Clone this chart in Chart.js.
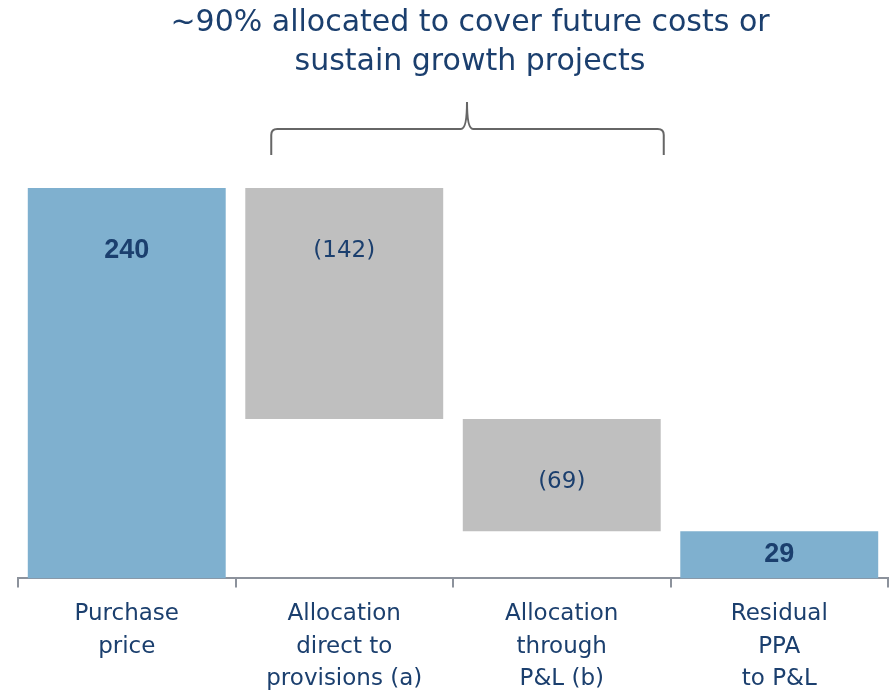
<!DOCTYPE html>
<html>
<head>
<meta charset="utf-8">
<script src="https://cdn.jsdelivr.net/npm/chart.js@4"></script>
<style>
  html, body { margin: 0; padding: 0; background: #ffffff; overflow: hidden; }
  #wrap { position: relative; width: 890px; height: 692px; overflow: hidden; }
</style>
</head>
<body>
<div id="wrap"><canvas id="c" width="890" height="706"></canvas></div>
<script>
const categories = [
  ["Purchase", "price"],
  ["Allocation", "direct to", "provisions (a)"],
  ["Allocation", "through", "P&L (b)"],
  ["Residual", "PPA", "to P&L"]
];
const barStarts = [0, 98, 29, 0];
const barEnds = [240, 240, 98, 29];
const valueLabels = ["240", "(142)", "(69)", "29"];
const labelBold = [true, false, false, true];
const titleLines = ["~90% allocated to cover future costs or", "sustain growth projects"];

const NAVY = "#1b3f6e";
const BLUE = "#7fb0cf";
const GREY = "#bfbfbf";
const AXIS = "#8c929c";
const FONT = "'DejaVu Sans', 'Open Sans', sans-serif";

const floating = barStarts.map((s, i) => [s, barEnds[i]]);

const overlay = {
  id: "overlay",
  afterDatasetsDraw(chart) {
    const ctx = chart.ctx;
    const meta = chart.getDatasetMeta(0);
    ctx.save();
    ctx.textAlign = "center";
    ctx.textBaseline = "middle";
    ctx.fillStyle = NAVY;
    meta.data.forEach((bar, i) => {
      const top = Math.min(bar.y, bar.base);
      const bottom = Math.max(bar.y, bar.base);
      const h = bottom - top;
      const y = h > 100 ? top + 63 : (top + bottom) / 2;
      ctx.font = (labelBold[i] ? "bold 27px 'Liberation Sans', Arial, sans-serif" : "23px " + FONT);
      ctx.fillText(valueLabels[i], bar.x, y);
    });
    // title
    const cx = 470;
    ctx.font = "30px " + FONT;
    ctx.fillText(titleLines[0], cx, 23);
    ctx.fillText(titleLines[1], cx, 62);
    // brace
    const x = chart.scales.x;
    const left = x.getPixelForValue(1) - 73;
    const right = x.getPixelForValue(2) + 102;
    const mid = 467;
    const yTop = 102, yH = 129, yEnd = 155, r = 6;
    ctx.strokeStyle = "#666666";
    ctx.lineWidth = 2;
    ctx.beginPath();
    ctx.moveTo(left, yEnd);
    ctx.lineTo(left, yH + r);
    ctx.quadraticCurveTo(left, yH, left + r, yH);
    ctx.lineTo(mid - r, yH);
    ctx.quadraticCurveTo(mid, yH, mid, yTop);
    ctx.quadraticCurveTo(mid, yH, mid + r, yH);
    ctx.lineTo(right - r, yH);
    ctx.quadraticCurveTo(right, yH, right, yH + r);
    ctx.lineTo(right, yEnd);
    ctx.stroke();
    ctx.restore();
  }
};

new Chart(document.getElementById("c"), {
  type: "bar",
  data: {
    labels: categories,
    datasets: [{
      data: floating,
      backgroundColor: [BLUE, GREY, GREY, BLUE],
      borderWidth: 0,
      categoryPercentage: 1,
      barPercentage: 0.91
    }]
  },
  options: {
    responsive: false,
    animation: false,
    devicePixelRatio: 1,
    layout: { padding: { left: 18, right: 2, top: 188, bottom: 0 } },
    plugins: { legend: { display: false }, tooltip: { enabled: false }, title: { display: false } },
    scales: {
      y: { display: false, min: 0, max: 240 },
      x: {
        border: { display: true, color: AXIS, width: 2 },
        grid: { display: true, drawOnChartArea: false, drawTicks: true, tickLength: 9, color: AXIS, lineWidth: 2, offset: true },
        ticks: { color: NAVY, font: { family: FONT, size: 23, lineHeight: 1.4 }, padding: 11, maxRotation: 0, autoSkip: false }
      }
    }
  },
  plugins: [overlay]
});
</script>
</body>
</html>
